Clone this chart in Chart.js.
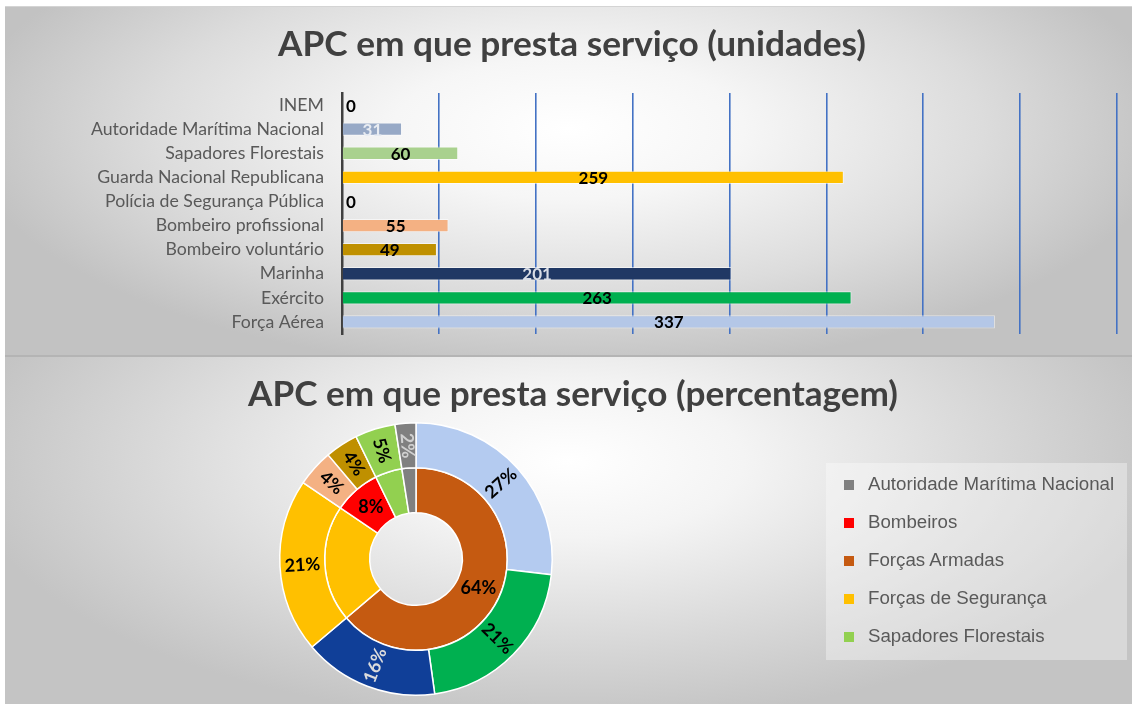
<!DOCTYPE html>
<html>
<head>
<meta charset="utf-8">
<script src="https://cdn.jsdelivr.net/npm/chart.js@4.4.1/dist/chart.umd.min.js"></script>
<style>
  html, body { margin: 0; padding: 0; background: #ffffff; width: 1132px; height: 704px; overflow: hidden; }
  .panel { position: absolute; left: 5px; width: 1127px; }
  #topPanel {
    top: 6px; height: 351px;
    border-top: 1px solid #d4d4d4;
    box-sizing: border-box;
    background: radial-gradient(ellipse farthest-corner at 50% 35%, #ffffff 0%, #f6f6f6 22%, #dcdcdc 52%, #c2c2c2 76%);
    border-bottom: 2px solid #b4b4b4;
  }
  #bottomPanel {
    top: 357px; height: 347px;
    background: radial-gradient(ellipse farthest-corner at 50% 30%, #ffffff 0%, #f4f4f4 22%, #d9d9d9 52%, #c4c4c4 76%);
  }
  .panel canvas { position: absolute; left: 0; top: 0; }
  #legendBox {
    position: absolute; left: 826px; top: 463px; width: 301px; height: 197px;
    background: rgba(255, 255, 255, 0.35);
  }
  .legend-item {
    position: absolute; left: 18px; height: 20px; line-height: 20px;
    font-family: "Liberation Sans", Arial, sans-serif; font-size: 18.7px; color: #595959;
    white-space: nowrap;
  }
  .legend-item span.box { display: inline-block; width: 10px; height: 10px; margin-right: 14px; vertical-align: 0px; }
</style>
</head>
<body>
<div id="topPanel" class="panel"><canvas id="barChart" width="1127" height="348"></canvas></div>
<div id="bottomPanel" class="panel"><canvas id="ringChart" width="1127" height="347"></canvas></div>
<div id="legendBox"></div>
<script>
// bar chart (unidades)
const categories = ['INEM', 'Autoridade Marítima Nacional', 'Sapadores Florestais', 'Guarda Nacional Republicana',
  'Polícia de Segurança Pública', 'Bombeiro profissional', 'Bombeiro voluntário', 'Marinha', 'Exército', 'Força Aérea'];
const unitValues = [0, 31, 60, 259, 0, 55, 49, 201, 263, 337];
const barColors = ['#8497b0', '#97a9c6', '#a9d18e', '#ffc000', '#f4b183', '#f4b183', '#bf9000', '#203864', '#00b050', '#b4c7e7'];
const barLabelColors = ['#000000', '#e8ecf2', '#000000', '#000000', '#000000', '#000000', '#000000', '#d9dde6', '#000000', '#000000'];
const axisTicks = [0, 50, 100, 150, 200, 250, 300, 350, 400];

// doughnut (percentagem): outer ring = units, inner ring = groups
const outerLabels = ['Força Aérea', 'Exército', 'Marinha', 'Guarda Nacional Republicana',
  'Bombeiro profissional', 'Bombeiro voluntário', 'Sapadores Florestais', 'Autoridade Marítima Nacional'];
const outerValues = [337, 263, 201, 259, 55, 49, 60, 31];
const outerColors = ['#b4cbf0', '#00b050', '#103f98', '#ffc000', '#f4b183', '#bf9000', '#92d050', '#808080'];
const outerLabelColors = ['#000000', '#000000', '#dcdcdc', '#000000', '#000000', '#000000', '#000000', '#d0d0d0'];

const innerLabels = ['Forças Armadas', 'Forças de Segurança', 'Bombeiros', 'Sapadores Florestais', 'Autoridade Marítima Nacional'];
const innerValues = [801, 259, 104, 60, 31];
const innerColors = ['#c55a11', '#ffc000', '#ff0000', '#92d050', '#808080'];
const innerShowLabel = [true, false, true, false, false];

const legendOrder = ['Autoridade Marítima Nacional', 'Bombeiros', 'Forças Armadas', 'Forças de Segurança', 'Sapadores Florestais'];

const titlePlugin = {
  id: 'panelTitle',
  afterDraw(chart, args, opts) {
    const ctx = chart.ctx;
    ctx.save();
    ctx.font = `bold ${opts.size}px Lato`;
    ctx.fillStyle = '#404040';
    ctx.textAlign = 'center';
    ctx.textBaseline = 'middle';
    const w = ctx.measureText(opts.text).width;
    ctx.translate(opts.x, opts.y);
    ctx.scale(opts.width / w, 1);
    ctx.fillText(opts.text, 0, 0);
    ctx.restore();
  }
};

const barLabelPlugin = {
  id: 'barLabels',
  afterDatasetsDraw(chart) {
    const ctx = chart.ctx;
    const meta = chart.getDatasetMeta(0);
    ctx.save();
    ctx.font = 'bold 17px Lato';
    ctx.textAlign = 'center';
    ctx.textBaseline = 'middle';
    meta.data.forEach((bar, i) => {
      const p = bar.getProps(['x', 'y', 'base'], true);
      const v = unitValues[i];
      const x = v === 0 ? p.base + 9 : (p.base + p.x) / 2;
      ctx.fillStyle = barLabelColors[i];
      ctx.fillText(String(v), x, p.y + 1);
    });
    ctx.restore();
  }
};

const ringLabelPlugin = {
  id: 'ringLabels',
  afterDatasetsDraw(chart) {
    const ctx = chart.ctx;
    ctx.save();
    ctx.font = 'bold 18px Lato';
    ctx.textAlign = 'center';
    ctx.textBaseline = 'middle';
    chart.data.datasets.forEach((ds, di) => {
      const meta = chart.getDatasetMeta(di);
      const total = ds.data.reduce((a, b) => a + b, 0);
      meta.data.forEach((arc, i) => {
        if (di === 1 && !innerShowLabel[i]) return;
        const p = arc.getProps(['x', 'y', 'startAngle', 'endAngle', 'innerRadius', 'outerRadius'], true);
        const mid = (p.startAngle + p.endAngle) / 2;
        const r = (p.innerRadius + p.outerRadius) / 2;
        const pct = Math.round(ds.data[i] / total * 100) + '%';
        ctx.save();
        ctx.translate(p.x + Math.cos(mid) * r, p.y + Math.sin(mid) * r);
        if (di === 0) {
          let rot = mid;
          if (Math.cos(mid) < -0.01) rot += Math.PI;
          ctx.rotate(rot);
          ctx.fillStyle = outerLabelColors[i];
        } else {
          ctx.fillStyle = '#000000';
        }
        ctx.fillText(pct, 0, 0);
        ctx.restore();
      });
    });
    ctx.restore();
  }
};

class ServiceCharts {
  constructor() {
    this.charts = {};
    this.createBarChart();
    this.createRingChart();
    this.createLegend();
  }

  createBarChart() {
    const ctx = document.getElementById('barChart').getContext('2d');
    this.charts.bar = new Chart(ctx, {
      type: 'bar',
      data: {
        labels: categories,
        datasets: [{
          data: unitValues,
          backgroundColor: barColors,
          borderColor: 'rgba(255,255,255,0.55)',
          borderWidth: 1,
          categoryPercentage: 1,
          barPercentage: 0.55
        }]
      },
      plugins: [barLabelPlugin, titlePlugin],
      options: {
        indexAxis: 'y',
        responsive: false,
        animation: false,
        layout: { padding: { top: 86, right: 15, bottom: 21, left: 0 } },
        scales: {
          x: {
            min: 0,
            max: 400,
            afterBuildTicks: axis => { axis.ticks = axisTicks.map(v => ({ value: v })); },
            ticks: { display: false },
            grid: {
              color: ctx => ctx.tick && ctx.tick.value === 0 ? 'rgba(0,0,0,0)' : '#4472c4',
              lineWidth: 1.6,
              drawTicks: false
            },
            border: { display: false }
          },
          y: {
            afterFit: axis => {
              axis.width = 337;
              axis.paddingTop = 0;
              axis.paddingBottom = 0;
            },
            ticks: {
              color: '#595959',
              font: { family: 'Lato', size: 17.7 },
              padding: 18,
              autoSkip: false
            },
            grid: { display: false, drawTicks: false },
            border: { color: '#404040', width: 2.5 }
          }
        },
        plugins: {
          legend: { display: false },
          tooltip: { enabled: false },
          panelTitle: { text: 'APC em que presta serviço (unidades)', x: 567, y: 38, size: 35, width: 588 }
        }
      }
    });
  }

  createRingChart() {
    const ctx = document.getElementById('ringChart').getContext('2d');
    this.charts.ring = new Chart(ctx, {
      type: 'doughnut',
      data: {
        labels: outerLabels,
        datasets: [
          { data: outerValues, backgroundColor: outerColors, borderColor: '#ffffff', borderWidth: 1.5 },
          { data: innerValues, backgroundColor: innerColors, borderColor: '#ffffff', borderWidth: 1.5 }
        ]
      },
      plugins: [ringLabelPlugin, titlePlugin],
      options: {
        responsive: false,
        animation: false,
        cutout: '34%',
        layout: { padding: { top: 65, right: 579, bottom: 8, left: 274 } },
        plugins: {
          legend: { display: false },
          tooltip: { enabled: false },
          panelTitle: { text: 'APC em que presta serviço (percentagem)', x: 568, y: 38, size: 35, width: 650 }
        }
      }
    });
  }

  createLegend() {
    const box = document.getElementById('legendBox');
    legendOrder.forEach((name, i) => {
      const item = document.createElement('div');
      item.className = 'legend-item';
      item.style.top = (11 + i * 38) + 'px';
      const color = innerColors[innerLabels.indexOf(name)];
      item.innerHTML = `<span class="box" style="background:${color}"></span>${name}`;
      box.appendChild(item);
    });
  }
}

document.addEventListener('DOMContentLoaded', function() {
  new ServiceCharts();
});
</script>
</body>
</html>
